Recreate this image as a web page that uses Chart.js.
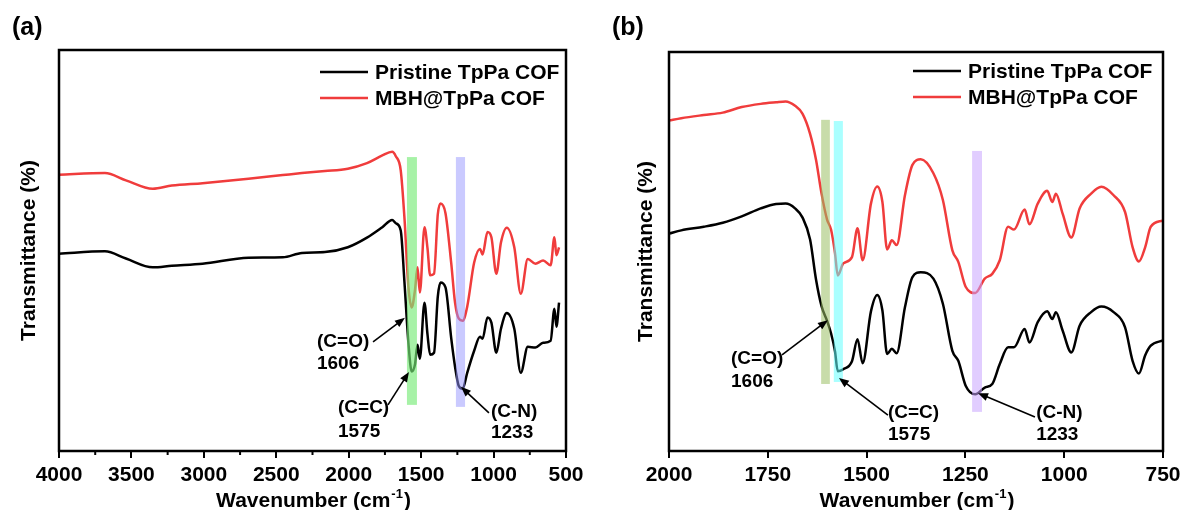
<!DOCTYPE html>
<html>
<head>
<meta charset="utf-8">
<script src="https://cdn.jsdelivr.net/npm/chart.js@4.4.1/dist/chart.umd.min.js"></script>
<style>
  body { margin: 0; background: #fff; width: 1185px; height: 510px; overflow: hidden; position: relative; }
  canvas { position: absolute; top: 0; }
</style>
</head>
<body>
<canvas id="chartA" width="592" height="510" style="left:0"></canvas>
<canvas id="chartB" width="593" height="510" style="left:592px"></canvas>
<script>
// data (transmittance in arbitrary units, 0-100 = plot height)
const seriesNames = ['Pristine TpPa COF', 'MBH@TpPa COF'];

// panel (a): full range
const wavenumberA = [4000, 3683, 3538, 3353, 3221, 3009, 2692, 2455, 2323, 2164, 2006, 1874, 1768, 1700, 1675, 1641, 1615, 1588, 1565, 1543, 1525, 1509, 1477, 1456, 1438, 1411, 1385, 1366, 1332, 1292, 1266, 1240, 1213, 1182, 1134, 1094, 1076, 1042, 1015, 981, 949, 909, 857, 812, 764, 711, 658, 606, 580, 566, 548];
const pristineA = [49.2, 49.8, 48.0, 45.8, 46.2, 46.7, 48.2, 48.3, 49.4, 49.6, 50.8, 53.2, 55.8, 57.6, 56.8, 55, 42, 27, 19.8, 21.5, 26.5, 23, 37, 29, 24, 24.5, 38.5, 42, 40.8, 28, 21, 16.2, 15.5, 19.5, 25, 28.5, 28, 33.3, 32, 24.5, 30.5, 34.4, 30.5, 19.5, 26, 25.8, 27, 27.5, 35.5, 31, 37];
const mbhA = [68.9, 69.3, 67.5, 65.4, 66.2, 66.8, 67.9, 68.8, 69.3, 69.8, 70.4, 71.8, 73.7, 74.6, 73.5, 70, 58, 41, 35.8, 40, 45.8, 39.5, 55.8, 50.5, 43.8, 44.2, 59, 61.7, 59.3, 46.7, 37, 33, 32.5, 36, 47, 50.4, 49, 54.6, 53.3, 44.2, 52, 55.7, 50.8, 39.2, 47.9, 46.7, 47.5, 46.3, 53.3, 48.8, 50.8];
const ticksA = [4000, 3500, 3000, 2500, 2000, 1500, 1000, 500];
const minorTicksA = [3750, 3250, 2750, 2250, 1750, 1250, 750];

// panel (b): 2000-750 zoom
const wavenumberB = [2000, 1969, 1912, 1864, 1816, 1768, 1729, 1705, 1681, 1662, 1643, 1628, 1614, 1600, 1590, 1580, 1573, 1559, 1537, 1523, 1510, 1489, 1473, 1460, 1448, 1436, 1424, 1403, 1384, 1363, 1331, 1307, 1283, 1268, 1249, 1225, 1201, 1182, 1163, 1142, 1127, 1100, 1088, 1067, 1043, 1030, 1021, 1004, 982, 961, 932, 906, 875, 846, 827, 811, 795, 781, 750];
const pristineB = [54.5, 55.3, 56.2, 57.2, 58.8, 60.8, 61.9, 62.0, 60.8, 58.5, 53, 43, 36.3, 32.6, 29.5, 25, 20, 20.5, 22.5, 28, 22, 35, 39.1, 35.2, 24.3, 25.6, 24.5, 36, 43.6, 44.8, 43.2, 36.9, 25.1, 22.6, 16.3, 14.2, 15.9, 16.8, 21.8, 26, 26, 30.6, 27.2, 32.3, 35, 33.1, 34.8, 30.2, 24.7, 31.4, 34.8, 36.2, 34.8, 31, 22.6, 19.4, 24, 26.4, 27.7];
const mbhB = [82.8, 83.4, 84.2, 84.8, 86.2, 87, 87.4, 87.6, 86.5, 84.5, 79.5, 73, 64.5, 58, 55.5, 49.6, 44, 47, 48.6, 55.8, 47.8, 62, 66.3, 62.4, 50.5, 52.8, 51.6, 64.1, 71.7, 73.1, 69.6, 62.9, 50.3, 47.4, 41.1, 39.6, 43.2, 44.4, 47.8, 56.2, 55.5, 60.5, 56.8, 62, 65.2, 62.4, 64.5, 59.5, 53.5, 60.8, 64.5, 66.2, 64.1, 59.9, 51.1, 47.5, 51.1, 56.2, 57.8];
const ticksB = [2000, 1750, 1500, 1250, 1000, 750];
const minorTicksB = [];

const peakNames = ['(C=O)', '(C=C)', '(C-N)'];
const peakValues = ['1606', '1575', '1233'];

const FONT = '"Liberation Sans", Arial, sans-serif';
const RED = '#f03c3c';

// draws bands, arrows, peak labels, frame, legend and axis title
const decor = {
  id: 'decor',
  afterDatasetsDraw(chart, args, o) {
    const { ctx } = chart, xs = chart.scales.x, ys = chart.scales.y;
    ctx.save();
    o.bands.forEach(b => {
      const x1 = xs.getPixelForValue(b.from), x2 = xs.getPixelForValue(b.to);
      const y1 = ys.getPixelForValue(b.top), y2 = ys.getPixelForValue(b.bottom);
      ctx.fillStyle = b.color;
      ctx.fillRect(Math.min(x1, x2), y1, Math.abs(x2 - x1), y2 - y1);
    });
    ctx.restore();
  },
  afterDraw(chart, args, o) {
    const { ctx, chartArea: a } = chart, xs = chart.scales.x, ys = chart.scales.y;
    ctx.save();
    // frame
    ctx.strokeStyle = '#000';
    ctx.lineWidth = 2.5;
    ctx.strokeRect(a.left, a.top, a.right - a.left, a.bottom - a.top);
    // minor ticks
    ctx.lineWidth = 2;
    o.minor.forEach(v => {
      const px = xs.getPixelForValue(v);
      ctx.beginPath();
      ctx.moveTo(px, a.bottom);
      ctx.lineTo(px, a.bottom + 4);
      ctx.stroke();
    });
    // arrows + labels
    ctx.fillStyle = '#000';
    ctx.lineWidth = 1.6;
    o.peaks.forEach((p, i) => {
      const x0 = xs.getPixelForValue(p.from[0]), y0 = ys.getPixelForValue(p.from[1]);
      const x1 = xs.getPixelForValue(p.to[0]), y1 = ys.getPixelForValue(p.to[1]);
      const ang = Math.atan2(y1 - y0, x1 - x0);
      ctx.beginPath();
      ctx.moveTo(x0, y0);
      ctx.lineTo(x1 - 7 * Math.cos(ang), y1 - 7 * Math.sin(ang));
      ctx.stroke();
      ctx.beginPath();
      ctx.moveTo(x1, y1);
      ctx.lineTo(x1 - 10 * Math.cos(ang) + 4 * Math.sin(ang), y1 - 10 * Math.sin(ang) - 4 * Math.cos(ang));
      ctx.lineTo(x1 - 10 * Math.cos(ang) - 4 * Math.sin(ang), y1 - 10 * Math.sin(ang) + 4 * Math.cos(ang));
      ctx.closePath();
      ctx.fill();
      ctx.font = 'bold 19px ' + FONT;
      ctx.textAlign = 'left';
      ctx.textBaseline = 'middle';
      const tx = xs.getPixelForValue(p.text[0]);
      ctx.fillText(peakNames[i], tx, ys.getPixelForValue(p.text[1]));
      ctx.fillText(peakValues[i], tx, ys.getPixelForValue(p.text[2]));
    });
    // legend
    const colors = ['#000', RED];
    ctx.font = 'bold 21px ' + FONT;
    seriesNames.forEach((name, i) => {
      const ly = o.legend.y + i * 26;
      const lx = a.right - o.legend.dx;
      ctx.strokeStyle = colors[i];
      ctx.lineWidth = 2.5;
      ctx.beginPath();
      ctx.moveTo(lx, ly);
      ctx.lineTo(lx + 48, ly);
      ctx.stroke();
      ctx.fillText(name, lx + 55, ly + 1);
    });
    // panel label
    ctx.font = 'bold 25px ' + FONT;
    ctx.fillText(o.panel, o.panelX, 28);
    // x axis title with superscript
    const main = 'Wavenumber (cm', sup = '-1', end = ')';
    ctx.font = 'bold 21px ' + FONT;
    const w1 = ctx.measureText(main).width, w3 = ctx.measureText(end).width;
    ctx.font = 'bold 13px ' + FONT;
    const w2 = ctx.measureText(sup).width;
    let sx = (a.left + a.right) / 2 - (w1 + w2 + w3) / 2;
    ctx.textBaseline = 'alphabetic';
    ctx.font = 'bold 21px ' + FONT;
    ctx.fillText(main, sx, 507);
    ctx.font = 'bold 13px ' + FONT;
    ctx.fillText(sup, sx + w1 + 1, 498);
    ctx.font = 'bold 21px ' + FONT;
    ctx.fillText(end, sx + w1 + w2 + 2, 507);
    ctx.restore();
  }
};

function makeChart(id, xs, black, red, ticks, opts) {
  const pts = arr => xs.map((x, i) => ({ x: x, y: arr[i] }));
  return new Chart(document.getElementById(id), {
    type: 'line',
    data: {
      datasets: [
        { label: seriesNames[0], data: pts(black), borderColor: '#000', borderWidth: 2.5, pointRadius: 0, cubicInterpolationMode: 'monotone' },
        { label: seriesNames[1], data: pts(red), borderColor: RED, borderWidth: 2.5, pointRadius: 0, cubicInterpolationMode: 'monotone' }
      ]
    },
    options: {
      responsive: false,
      animation: false,
      layout: { padding: { left: 0, top: opts.top, right: opts.right, bottom: 0 } },
      plugins: {
        legend: { display: false },
        tooltip: { enabled: false },
        decor: opts.decor
      },
      scales: {
        x: {
          type: 'linear',
          reverse: true,
          min: ticks[ticks.length - 1],
          max: ticks[0],
          afterBuildTicks: s => { s.ticks = ticks.map(v => ({ value: v })); },
          afterFit: s => { s.height = 59; s.paddingLeft = 0; s.paddingRight = 0; },
          ticks: { color: '#000', font: { family: FONT, size: 21, weight: 'bold' }, padding: 5, maxRotation: 0, autoSkip: false, callback: v => String(v) },
          grid: { display: true, drawOnChartArea: false, drawTicks: true, tickLength: 7, color: '#000', lineWidth: 2 },
          border: { display: false }
        },
        y: {
          min: 0,
          max: 100,
          afterFit: s => { s.width = opts.yWidth; s.paddingTop = 0; s.paddingBottom = 0; },
          ticks: { display: false },
          grid: { display: false },
          border: { display: false },
          title: { display: true, text: 'Transmittance (%)', color: '#000', font: { family: FONT, size: 21, weight: 'bold' }, padding: { top: opts.titlePad, bottom: 0 } }
        }
      }
    },
    plugins: [decor]
  });
}

makeChart('chartA', wavenumberA, pristineA, mbhA, ticksA, {
  top: 50, right: 26, yWidth: 59, titlePad: 17,
  decor: {
    panel: '(a)', panelX: 12, minor: minorTicksA,
    legend: { y: 72, dx: 246 },
    bands: [
      { from: 1598, to: 1529, top: 73.3, bottom: 11.5, color: 'rgba(120,235,120,0.65)' },
      { from: 1260, to: 1197, top: 73.3, bottom: 11, color: 'rgba(150,150,255,0.5)' }
    ],
    peaks: [
      { from: [1832, 27.2], to: [1612, 33.2], text: [2219, 27.2, 21.7] },
      { from: [1729, 11.5], to: [1584, 19.7], text: [2074, 10.7, 4.7] },
      { from: [1032, 9.5], to: [1225, 16], text: [1018, 9.7, 4.5] }
    ]
  }
});

makeChart('chartB', wavenumberB, pristineB, mbhB, ticksB, {
  top: 52, right: 22, yWidth: 77, titlePad: 42,
  decor: {
    panel: '(b)', panelX: 20, minor: minorTicksB,
    legend: { y: 71, dx: 250 },
    bands: [
      { from: 1615, to: 1593, top: 83, bottom: 16.8, color: 'rgba(155,191,100,0.55)' },
      { from: 1583, to: 1560, top: 82.7, bottom: 17.3, color: 'rgba(100,255,255,0.55)' },
      { from: 1233, to: 1208, top: 75.2, bottom: 9.8, color: 'rgba(200,164,255,0.55)' }
    ],
    peaks: [
      { from: [1714, 24.1], to: [1598, 32.8], text: [1843, 23.1, 17.3] },
      { from: [1446, 9.0], to: [1570, 18.3], text: [1446, 9.5, 4.0] },
      { from: [1074, 8.5], to: [1218, 14.5], text: [1071, 9.5, 4.0] }
    ]
  }
});
</script>
</body>
</html>
